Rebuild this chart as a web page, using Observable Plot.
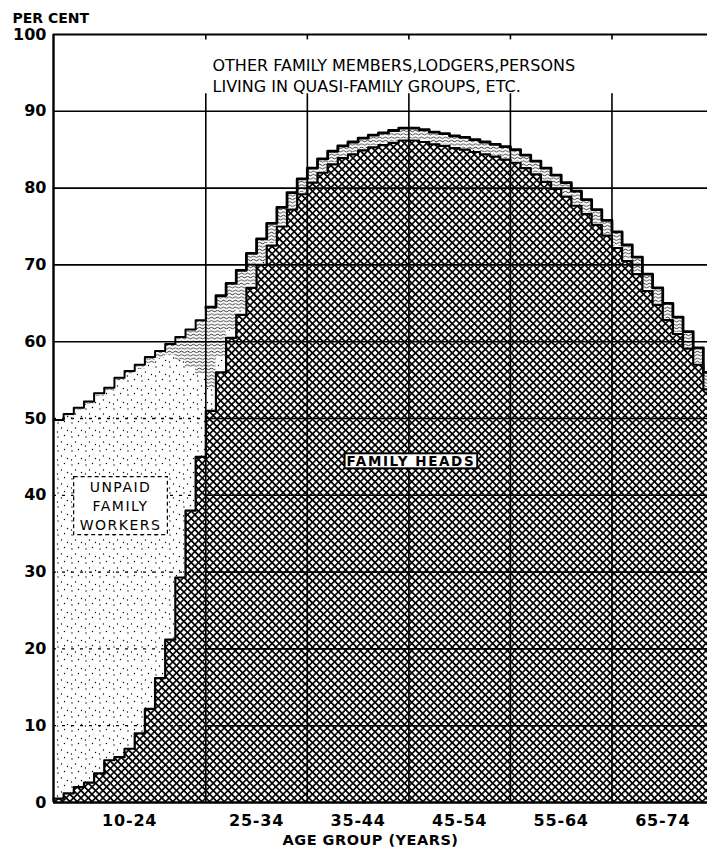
<!DOCTYPE html>
<html><head><meta charset="utf-8">
<script src="https://cdn.jsdelivr.net/npm/d3@7"></script>
<script src="https://cdn.jsdelivr.net/npm/@observablehq/plot@0.6"></script>
<style>body{margin:0;background:#fff;overflow:hidden}</style>
</head><body><div id="chart"></div>
<script>
// ---- data (single years of age, 10 .. 74) ----
const ages = [10,11,12,13,14,15,16,17,18,19,20,21,22,23,24,
  25,26,27,28,29,30,31,32,33,34,
  35,36,37,38,39,40,41,42,43,44,
  45,46,47,48,49,50,51,52,53,54,
  55,56,57,58,59,60,61,62,63,64,
  65,66,67,68,69,70,71,72,73,74];
const familyHeads = [0.5,1.2,2.0,2.6,3.8,5.5,5.9,7.0,9.0,12.2,16.2,21.2,29.3,38.0,45.0,
  51.0,56.0,60.5,63.5,67.0,70.0,72.5,75.0,77.2,79.2,
  80.7,82.0,83.1,83.9,84.4,84.9,85.3,85.6,85.9,86.2,
  86.2,86.0,85.7,85.5,85.2,85.0,84.7,84.4,84.1,83.7,
  83.3,82.6,81.8,80.8,79.9,78.9,77.7,76.6,75.2,73.8,
  72.2,70.5,68.8,66.6,64.8,62.8,61.0,59.1,57.0,53.8];
const unpaidWorkers = [49.0,49.1,49.1,49.3,49.1,48.1,48.9,48.7,47.4,45.0,41.6,37.0,28.3,18.6,10.8,
  3.0,2.0,1.0,0.6,0.4,0.3,0.3,0.3,0.2,0.2,
  0.2,0.2,0.2,0.2,0.2,0.2,0.2,0.2,0.2,0.2,
  0.2,0.2,0.2,0.2,0.2,0.2,0.2,0.2,0.2,0.2,
  0.2,0.2,0.2,0.2,0.2,0.2,0.2,0.2,0.2,0.2,
  0.2,0.2,0.2,0.2,0.2,0.2,0.2,0.2,0.2,0.2];
const otherMembers = [0.3,0.3,0.3,0.3,0.4,0.4,0.5,0.5,0.6,0.8,1.0,1.5,3.0,5.0,7.0,
  10.5,8.0,6.1,5.2,4.1,3.1,2.6,2.2,2.0,1.8,
  1.7,1.6,1.5,1.4,1.4,1.4,1.4,1.4,1.4,1.4,
  1.4,1.4,1.4,1.4,1.4,1.4,1.4,1.4,1.4,1.5,
  1.5,1.5,1.5,1.6,1.6,1.6,1.7,1.7,1.8,1.8,
  1.9,1.9,2.0,2.0,2.0,2.0,2.0,2.0,2.0,2.0];
const seriesNames = ["FAMILY HEADS", "UNPAID FAMILY WORKERS", "OTHER FAMILY MEMBERS"];
const seriesFills = ["url(#fhHatch)", "url(#uwDots)", "url(#omWavy)"];
const ageBounds = [10, 25, 35, 45, 55, 65, 75];
const groupLabels = ["10-24", "25-34", "35-44", "45-54", "55-64", "65-74"];
const yTicks = [0, 10, 20, 30, 40, 50, 60, 70, 80, 90, 100];
const gridTop = 92.3;
const noteLines = "OTHER FAMILY MEMBERS,LODGERS,PERSONS\nLIVING IN QUASI-FAMILY GROUPS, ETC.";
const headsLabel = [{text: "FAMILY HEADS", age: 45.2, pct: 44.4}];
const unpaidLabel = [{text: "UNPAID\nFAMILY\nWORKERS", age: 16.6, pct: 38.8}];

// ---- build tables ----
const last = ages.length - 1;
const stepAges = [...ages, ageBounds[ageBounds.length - 1]];
const seriesValues = [familyHeads, unpaidWorkers, otherMembers];
const rows = seriesNames.flatMap((s, k) =>
  stepAges.map((a, i) => ({series: s, age: a, value: seriesValues[k][Math.min(i, last)]})));
const fhTop = stepAges.map((a, i) => ({age: a, value: familyHeads[Math.min(i, last)]}));
const totalTop = stepAges.map((a, i) => {
  const j = Math.min(i, last);
  return {age: a, value: familyHeads[j] + unpaidWorkers[j] + otherMembers[j]};
});
const groups = groupLabels.map((g, i) => ({label: g, mid: (ageBounds[i] + ageBounds[i + 1]) / 2}));
const innerBounds = ageBounds.slice(1, -1);

const font = "DejaVu Sans";
const svg = Plot.plot({
  width: 707, height: 854,
  marginLeft: 53, marginRight: 0, marginTop: 34, marginBottom: 52,
  style: {background: "white", fontFamily: font},
  x: {domain: [ageBounds[0], ageBounds[ageBounds.length - 1]], range: [53, 713], axis: null},
  y: {domain: [0, 100], axis: null},
  color: {domain: seriesNames, range: seriesFills},
  marks: [
    Plot.areaY(rows, Plot.stackY({x: "age", y: "value", fill: "series", order: seriesNames, curve: "step-after"})),
    // horizontal grid
    Plot.ruleY(yTicks.filter(v => v > 0 && v < 100), {y: d => d, x1: ageBounds[1], x2: ageBounds[6], stroke: "black", strokeWidth: 1.6}),
    Plot.ruleY(yTicks.filter(v => v >= 60 && v < 100), {y: d => d, x1: ageBounds[0], x2: ageBounds[1], stroke: "black", strokeWidth: 1.6}),
    Plot.ruleY(yTicks.filter(v => v > 0 && v <= 50), {y: d => d, x1: ageBounds[0], x2: ageBounds[1], stroke: "black", strokeWidth: 1.3, strokeDasharray: "3,6"}),
    // vertical grid
    Plot.ruleX(innerBounds, {x: d => d, y1: 0, y2: gridTop, stroke: "black", strokeWidth: 1.6}),
    Plot.ruleX(innerBounds, {x: d => d, y1: 100, y2: 99.3, stroke: "black", strokeWidth: 1.6}),
    // frame
    Plot.ruleY([100], {x1: ageBounds[0], x2: ageBounds[6], stroke: "black", strokeWidth: 2}),
    Plot.ruleY([0], {x1: ageBounds[0], x2: ageBounds[6], stroke: "black", strokeWidth: 2.6}),
    Plot.ruleX([ageBounds[0]], {y1: 0, y2: 100, stroke: "black", strokeWidth: 2.4}),
    // step outlines
    Plot.lineY(fhTop, {x: "age", y: "value", curve: "step-after", stroke: "black", strokeWidth: 2.2}),
    Plot.lineY(totalTop.filter(d => d.age <= ageBounds[1]), {x: "age", y: "value", curve: "step-after", stroke: "black", strokeWidth: 2}),
    Plot.lineY(totalTop.filter(d => d.age >= ageBounds[1]), {x: "age", y: "value", curve: "step-after", stroke: "black", strokeWidth: 2.8}),
    // axes text
    Plot.text(yTicks, {x: ageBounds[0], y: d => d, text: d => String(d), textAnchor: "end", dx: -7, fontSize: 16, fontWeight: "bold", fill: "black"}),
    Plot.text(groups, {x: "mid", y: 0, text: "label", dy: 18, fontSize: 16, fontWeight: "bold", fill: "black"}),
    Plot.text(["AGE GROUP (YEARS)"], {frameAnchor: "bottom", dx: -10, dy: 42, fontSize: 14.5, fontWeight: "bold", fill: "black"}),
    Plot.text(["PER CENT"], {frameAnchor: "top-left", dx: -41, dy: -21, textAnchor: "start", fontSize: 14, fontWeight: "bold", fill: "black"}),
    Plot.text([noteLines], {frameAnchor: "top-left", dx: 159, dy: 21, lineAnchor: "top", lineHeight: 1.33, textAnchor: "start", fontSize: 16, fill: "black"}),
    Plot.text(headsLabel, {x: "age", y: "pct", text: "text", fontSize: 13.5, fontWeight: "bold", fill: "black"}),
    Plot.text(unpaidLabel, {x: "age", y: "pct", text: "text", fontSize: 14, lineHeight: 1.36, fill: "black"})
  ]
});
document.getElementById("chart").appendChild(svg);

// ---- fill patterns ----
const defs = d3.select(svg).insert("defs", ":first-child");
const cell = 5.2;
const fh = defs.append("pattern").attr("id", "fhHatch").attr("patternUnits", "userSpaceOnUse")
  .attr("width", cell).attr("height", cell).attr("patternTransform", "rotate(45)");
fh.append("rect").attr("width", cell).attr("height", cell).attr("fill", "white");
fh.append("path").attr("d", `M${cell/2} 0V${cell}M0 ${cell/2}H${cell}`).attr("stroke", "black").attr("stroke-width", 1.6);
const uw = defs.append("pattern").attr("id", "uwDots").attr("patternUnits", "userSpaceOnUse")
  .attr("width", 14).attr("height", 14);
uw.append("rect").attr("width", 14).attr("height", 14).attr("fill", "white");
[[2, 3], [8.5, 1.5], [5.5, 8], [11.5, 10.5], [1.5, 12]].forEach(([cx, cy]) =>
  uw.append("circle").attr("cx", cx).attr("cy", cy).attr("r", 0.7).attr("fill", "black"));
const om = defs.append("pattern").attr("id", "omWavy").attr("patternUnits", "userSpaceOnUse")
  .attr("width", 6).attr("height", 3.4);
om.append("rect").attr("width", 6).attr("height", 3.4).attr("fill", "white");
om.append("path").attr("d", "M0 1.7 Q1.5 0.3 3 1.7 T6 1.7").attr("stroke", "black").attr("stroke-width", 0.8).attr("fill", "none");

// ---- boxes behind inline labels ----
function boxBehind(match, padX, padY, dashed, spacing) {
  const t = Array.from(svg.querySelectorAll("text")).find(el => el.textContent.replace(/\s/g, "").startsWith(match));
  if (!t) return;
  t.setAttribute("letter-spacing", spacing);
  const bb = t.getBBox();
  const r = document.createElementNS("http://www.w3.org/2000/svg", "rect");
  r.setAttribute("x", bb.x - padX); r.setAttribute("y", bb.y - padY);
  r.setAttribute("width", bb.width + 2 * padX); r.setAttribute("height", bb.height + 2 * padY);
  const tr = t.getAttribute("transform");
  if (tr) r.setAttribute("transform", tr);
  r.setAttribute("fill", "white"); r.setAttribute("stroke", "black");
  r.setAttribute("stroke-width", dashed ? 1.2 : 2);
  if (dashed) r.setAttribute("stroke-dasharray", "4,3");
  t.parentNode.insertBefore(r, t);
}
boxBehind("FAMILYHEADS", 2, -0.5, false, 1.6);
boxBehind("UNPAID", 6, 2, true, 1.5);
Array.from(svg.querySelectorAll("text")).forEach(el => {
  if (el.textContent === "AGE GROUP (YEARS)") el.setAttribute("letter-spacing", 0.5);
  if (/^\d\d-\d\d$/.test(el.textContent)) el.setAttribute("letter-spacing", 0.8);
});
</script>
</body></html>
